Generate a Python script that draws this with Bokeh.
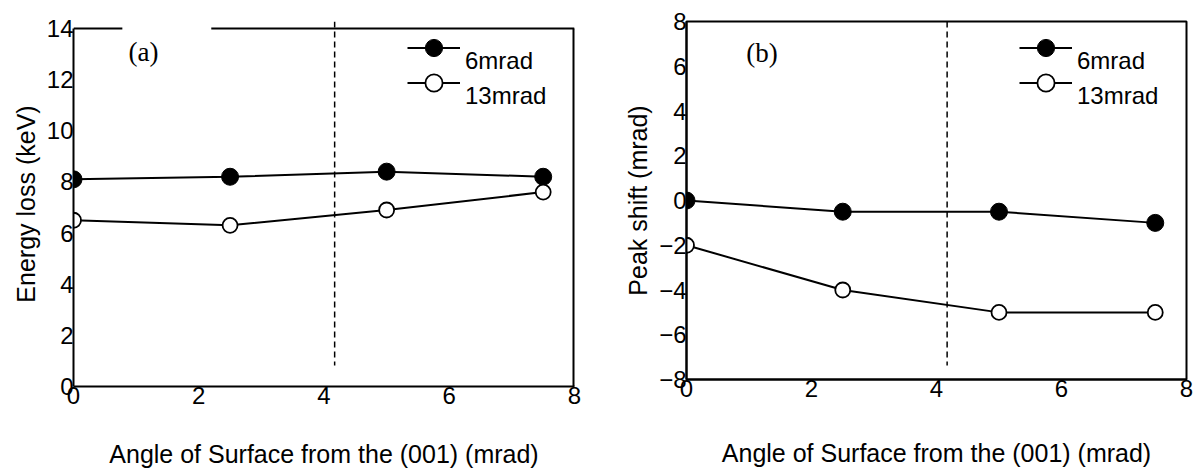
from bokeh.plotting import figure
from bokeh.layouts import row
from bokeh.models import Range1d, FixedTicker, Legend, LegendItem, Label
from bokeh.embed import file_html
from bokeh.resources import INLINE

# Surface angle from the (001) plane (mrad)
angle = [0, 2.5, 5, 7.5]

# (a) energy loss (keV) for the two incidence angles
eloss_6mrad = [8.1, 8.2, 8.4, 8.2]
eloss_13mrad = [6.5, 6.3, 6.9, 7.6]

# (b) peak shift (mrad) for the two incidence angles
shift_6mrad = [0.0, -0.5, -0.5, -1.0]
shift_13mrad = [-2.0, -4.0, -5.0, -5.0]

series_names = ["6mrad", "13mrad"]
panel_tags = ["(a)", "(b)"]

# critical surface angle marked by the dashed line
critical_angle = 4.17

x_ticks = [0, 2, 4, 6, 8]
eloss_ticks = [0, 2, 4, 6, 8, 10, 12, 14]
shift_ticks = [-8, -6, -4, -2, 0, 2, 4, 6, 8]
shift_tick_labels = ["\u22128", "\u22126", "\u22124", "\u22122", "0", "2", "4", "6", "8"]

x_title = "Angle of Surface from the (001) (mrad)"
eloss_title = "Energy loss (keV)"
shift_title = "Peak shift (mrad)"

TICK_FONT = "Liberation Sans"
TITLE_FONT = "Liberation Sans"
TAG_FONT = "Liberation Serif"


def make_figure(y_lo, y_hi, border_left, border_right, border_bottom, width, outline):
    p = figure(width=width, height=470, output_backend="svg",
               toolbar_location=None,
               x_range=Range1d(0, 8), y_range=Range1d(y_lo, y_hi),
               min_border_left=border_left, min_border_right=border_right,
               min_border_top=21, min_border_bottom=border_bottom,
               outline_line_color=outline, outline_line_width=2)
    p.frame_align = False
    return p


def style_axes(p, y_title, y_ticks, x_title_standoff):
    for ax in (p.xaxis[0], p.yaxis[0]):
        ax.axis_line_color = "black"
        ax.axis_line_width = 2
        ax.major_tick_in = 0
        ax.major_tick_out = 0
        ax.minor_tick_in = 0
        ax.minor_tick_out = 0
        ax.major_label_standoff = 0
        ax.major_label_text_font = TICK_FONT
        ax.major_label_text_font_size = "24px"
        ax.major_label_text_color = "black"
        ax.axis_label_text_font = TITLE_FONT
        ax.axis_label_text_font_size = "25px"
        ax.axis_label_text_font_style = "normal"
        ax.axis_label_text_color = "black"
    p.yaxis[0].axis_label = y_title
    p.yaxis[0].axis_label_standoff = 4
    p.yaxis[0].ticker = FixedTicker(ticks=y_ticks)
    p.xaxis[0].axis_label = x_title
    p.xaxis[0].axis_label_standoff = x_title_standoff
    p.xaxis[0].ticker = FixedTicker(ticks=x_ticks)
    p.grid.visible = False


def add_series(p, y6, y13):
    l6 = p.line(angle, y6, line_color="black", line_width=2)
    s6 = p.scatter(angle, y6, marker="circle", size=17, fill_color="black",
                   line_color="black")
    l13 = p.line(angle, y13, line_color="black", line_width=2)
    s13 = p.scatter(angle, y13, marker="circle", size=15, fill_color="white",
                    line_color="black", line_width=1.8)
    return [(series_names[0], [l6, s6]), (series_names[1], [l13, s13])]


def add_legend(p, items, x, y_bottoms):
    # one single-entry legend per series; the label sits just below its key
    for (name, rs), yb in zip(items, y_bottoms):
        legend = Legend(
            items=[LegendItem(label="\n" + name, renderers=rs)],
            location=(x, yb),
            glyph_width=53, glyph_height=43, label_height=43, spacing=0,
            padding=0, margin=0, label_standoff=5,
            label_text_font=TICK_FONT, label_text_font_size="24px",
            label_text_color="black",
            border_line_color=None, background_fill_alpha=0,
        )
        p.add_layout(legend)


def add_tag(p, x, y, text):
    p.add_layout(Label(x=x, y=y, text=text, text_font=TAG_FONT,
                       text_font_size="27px", text_baseline="middle",
                       text_align="left", text_color="black"))


# ---------------- (a) energy loss ----------------
pa = make_figure(0, 14.27, 73, 26, 84, 600, None)
style_axes(pa, eloss_title, eloss_ticks, 33)
pa.yaxis[0].bounds = (0, 14)
# right edge and the top edge, which leaves room around the panel tag
pa.segment(x0=[8], y0=[0], x1=[8], y1=[14], line_color="black", line_width=4)
pa.segment(x0=[0, 2.2], y0=[14, 14], x1=[0.78, 8], y1=[14, 14],
           line_color="black", line_width=2)
pa.segment(x0=[critical_angle], y0=[14.27], x1=[critical_angle], y1=[0.82],
           line_color="black", line_width=1.5, line_dash="6 4")
items_a = add_series(pa, eloss_6mrad, eloss_13mrad)
add_legend(pa, items_a, 334, [311, 276])
add_tag(pa, 0.88, 13.06, panel_tags[0])

# ---------------- (b) peak shift ----------------
pb = make_figure(-8, 8, 86, 8, 91, 594, "black")
style_axes(pb, shift_title, shift_ticks, 39)
pb.yaxis[0].major_label_overrides = dict(zip(shift_ticks, shift_tick_labels))
pb.segment(x0=[critical_angle], y0=[8], x1=[critical_angle], y1=[-7.37],
           line_color="black", line_width=1.5, line_dash="6 4")
items_b = add_series(pb, shift_6mrad, shift_13mrad)
add_legend(pb, items_b, 333, [304, 269])
add_tag(pb, 0.955, 6.61, panel_tags[1])

layout = row(pa, pb)
open("out.html", "w").write(file_html(layout, INLINE))
